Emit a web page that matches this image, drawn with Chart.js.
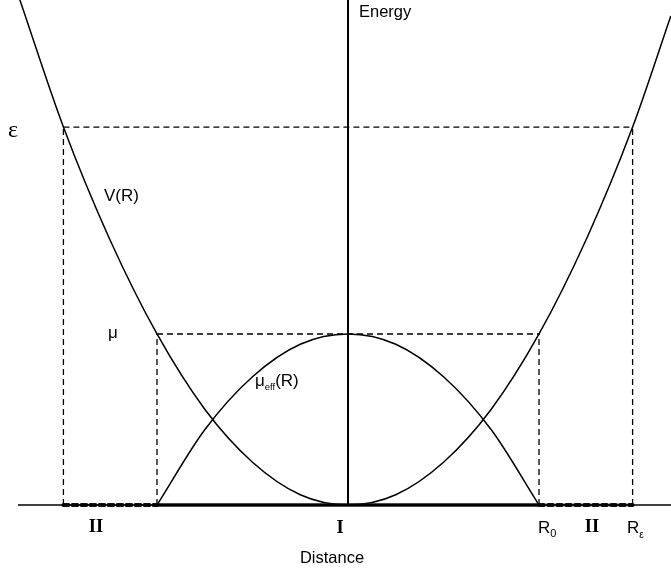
<!DOCTYPE html>
<html lang="en">
<head>
  <meta charset="UTF-8" />
  <title>Energy vs Distance</title>
  <script src="https://cdn.jsdelivr.net/npm/chart.js"></script>
  <style>
    html, body { margin: 0; padding: 0; background: #fff; }
    #wrap { width: 671px; height: 573px; }
  </style>
</head>
<body>
  <div id="wrap"><canvas id="chart"></canvas></div>

  <script>
    // distance R in units of R0, energy in units of mu
    const vR = [-1.72, -1.49, -1.25, -1.0, -0.75, -0.5, -0.25, 0, 0.25, 0.5, 0.75, 1.0, 1.25, 1.49, 1.69];
    const vE = [2.96, 2.21, 1.56, 1.0, 0.56, 0.25, 0.06, 0, 0.06, 0.25, 0.56, 1.0, 1.56, 2.21, 2.86];

    const muR = [-1.0, -0.75, -0.5, -0.25, 0, 0.25, 0.5, 0.75, 1.0];
    const muE = [0, 0.44, 0.75, 0.94, 1.0, 0.94, 0.75, 0.44, 0];

    const eps = 2.21;   // ε level
    const mu = 1.0;     // μ level
    const R0 = 1.0;
    const Reps = 1.49;

    const xRange = [-1.822, 1.691];
    const yRange = [0, 2.953];
    const axisStart = -1.728;

    const pts = (xs, ys) => xs.map((x, i) => ({ x: x, y: ys[i] }));
    const seg = (x1, y1, x2, y2) => [{ x: x1, y: y1 }, { x: x2, y: y2 }];

    const thin = { borderColor: "#000", borderWidth: 1.5, pointRadius: 0, fill: false, clip: false };
    const dash = { borderColor: "#000", borderWidth: 1.3, borderDash: [6, 4], pointRadius: 0, fill: false, clip: false };
    const dotted = { borderColor: "#111", borderWidth: 4, borderDash: [5, 4], borderCapStyle: "round", pointRadius: 0, fill: false, clip: false };

    const datasets = [
      Object.assign({ data: seg(axisStart, 0, xRange[1], 0) }, thin),
      Object.assign({ data: seg(0, 0, 0, yRange[1]) }, thin, { borderWidth: 2 }),
      Object.assign({ data: seg(-Reps, eps, Reps, eps) }, dash),
      Object.assign({ data: seg(-Reps, 0, -Reps, eps) }, dash),
      Object.assign({ data: seg(Reps, 0, Reps, eps) }, dash),
      Object.assign({ data: seg(-R0, mu, R0, mu) }, dash),
      Object.assign({ data: seg(-R0, 0, -R0, mu) }, dash),
      Object.assign({ data: seg(R0, 0, R0, mu) }, dash),
      Object.assign({ data: seg(-Reps, 0, -R0, 0) }, dotted),
      Object.assign({ data: seg(R0, 0, Reps, 0) }, dotted),
      Object.assign({ data: seg(-R0, 0, R0, 0) }, thin, { borderWidth: 3.5, borderColor: "#111" }),
      Object.assign({ data: pts(vR, vE), cubicInterpolationMode: "monotone" }, thin),
      Object.assign({ data: pts(muR, muE), cubicInterpolationMode: "monotone" }, thin)
    ];

    const sans = "Liberation Sans, Arial, sans-serif";
    const serif = "Liberation Serif, Times New Roman, serif";

    function txt(ctx, s, x, y, font, align) {
      ctx.font = font;
      ctx.textAlign = align || "left";
      ctx.fillText(s, x, y);
      return ctx.measureText(s).width;
    }

    const labels = {
      id: "labels",
      afterDraw(chart) {
        const ctx = chart.ctx;
        ctx.save();
        ctx.fillStyle = "#000";
        ctx.textBaseline = "alphabetic";
        txt(ctx, "Energy", 359, 17, "16.5px " + sans);
        txt(ctx, "ε", 8, 137, "24px " + serif);
        txt(ctx, "V(R)", 104, 201, "17px " + sans);
        txt(ctx, "μ", 108, 338, "17px " + sans);
        let w = txt(ctx, "μ", 255, 386, "17px " + sans);
        let w2 = txt(ctx, "eff", 255 + w, 390, "9.5px " + sans);
        txt(ctx, "(R)", 255 + w + w2, 386, "17px " + sans);
        txt(ctx, "II", 96, 532, "bold 18.5px " + serif, "center");
        txt(ctx, "I", 340, 533, "bold 18.5px " + serif, "center");
        txt(ctx, "II", 592, 532, "bold 18.5px " + serif, "center");
        w = txt(ctx, "R", 538, 533, "17px " + sans);
        txt(ctx, "0", 538 + w, 537, "11px " + sans);
        w = txt(ctx, "R", 627, 533, "17px " + sans);
        txt(ctx, "ε", 627 + w, 538, "10px " + sans);
        txt(ctx, "Distance", 332, 563, "16.5px " + sans, "center");
        ctx.restore();
      }
    };

    new Chart(document.getElementById("chart"), {
      type: "line",
      data: { datasets: datasets },
      plugins: [labels],
      options: {
        responsive: true,
        maintainAspectRatio: false,
        animation: false,
        layout: { padding: { left: 0, right: 0, top: 0, bottom: 68 } },
        plugins: { legend: { display: false }, tooltip: { enabled: false } },
        scales: {
          x: { type: "linear", min: xRange[0], max: xRange[1], display: false },
          y: { type: "linear", min: yRange[0], max: yRange[1], display: false }
        }
      }
    });
  </script>
</body>
</html>
